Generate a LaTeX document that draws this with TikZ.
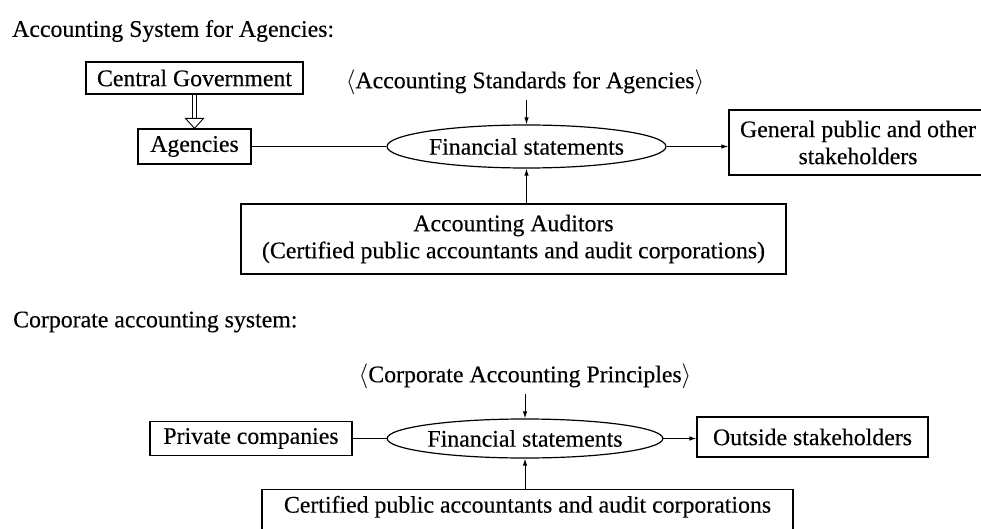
\documentclass[tikz,border=0pt]{standalone}
\usepackage{fontspec}
\setmainfont{Liberation Serif}[FakeBold=0.3]
\usetikzlibrary{shapes.geometric,arrows.meta}
\begin{document}
\begin{tikzpicture}[x=1pt,y=-1pt,
  font=\fontsize{23.8}{27}\selectfont,
  box/.style={draw, line width=1.2pt, inner sep=0pt, align=center},
  oval/.style={draw, ellipse, line width=1.2pt, inner sep=0pt},
  plain/.style={inner sep=0pt},
  conn/.style={line width=1pt},
  arr/.style={line width=1pt, -{Latex[length=7pt,width=4.5pt]}},
  shaft/.style={line width=0.9pt},
  openhead/.style={line width=0.9pt, fill=white, line join=miter}
]
\useasboundingbox (0,0) rectangle (981,529);
\clip (0,0) rectangle (981,529);
\fill[white] (0,0) rectangle (981,529);

% ---------- upper diagram ----------
\node[plain, anchor=west] (t1) at (12,31) {Accounting System for Agencies:};

\node[box, minimum width=217, minimum height=32] (cg) at (194.5,78) {Central Government};
\node[box, minimum width=113, minimum height=35] (ag) at (194.5,146.5) {Agencies};
\node[plain] (std1) at (525,82) {$\langle$Accounting Standards for Agencies$\rangle$};
\node[oval, minimum width=279, minimum height=43] (fs1) at (526.5,146.5) {Financial statements};
\node[box, minimum width=258, minimum height=65] (gp) at (858,142.5) {General public and other\\stakeholders};
\node[box, minimum width=545, minimum height=70] (aud) at (513.5,239) {Accounting Auditors\\(Certified public accountants and audit corporations)};

\draw[shaft] ([xshift=-1.8pt]cg.south) -- ([xshift=-1.8pt,yshift=10pt]ag.north);
\draw[shaft] ([xshift=1.8pt]cg.south) -- ([xshift=1.8pt,yshift=10pt]ag.north);
\draw[openhead] (ag.north) -- ([xshift=-9pt,yshift=10pt]ag.north) -- ([xshift=9pt,yshift=10pt]ag.north) -- cycle;
\draw[conn] (ag.east) -- (fs1.west);
\draw[arr] ([yshift=-5pt]std1.south -| fs1.north) -- (fs1.north);
\draw[arr] (fs1.east) -- (fs1.east -| gp.west);
\draw[arr] (aud.north -| fs1.south) -- (fs1.south);

% ---------- lower diagram ----------
\node[plain, anchor=west] (t2) at (13,322) {Corporate accounting system:};

\node[plain] (std2) at (525,376) {$\langle$Corporate Accounting Principles$\rangle$};
\node[oval, minimum width=254, minimum height=39] (fs2) at (525,438.5) {Financial statements};
\node[box, minimum width=202, minimum height=34] (pc) at (251,438.5) {Private companies};
\node[box, minimum width=231, minimum height=40] (os) at (812.5,437) {Outside stakeholders};
\node[box, anchor=north, minimum width=531, text height=17pt, text depth=40pt, inner ysep=6pt] (cpa) at (527.5,489) {Certified public accountants and audit corporations};

\draw[conn] (pc.east) -- (fs2.west);
\draw[arr] ([yshift=-5pt]std2.south) -- (fs2.north);
\draw[arr] (fs2.east) -- (fs2.east -| os.west);
\draw[arr] (cpa.north -| fs2.south) -- (fs2.south);
\end{tikzpicture}
\end{document}
